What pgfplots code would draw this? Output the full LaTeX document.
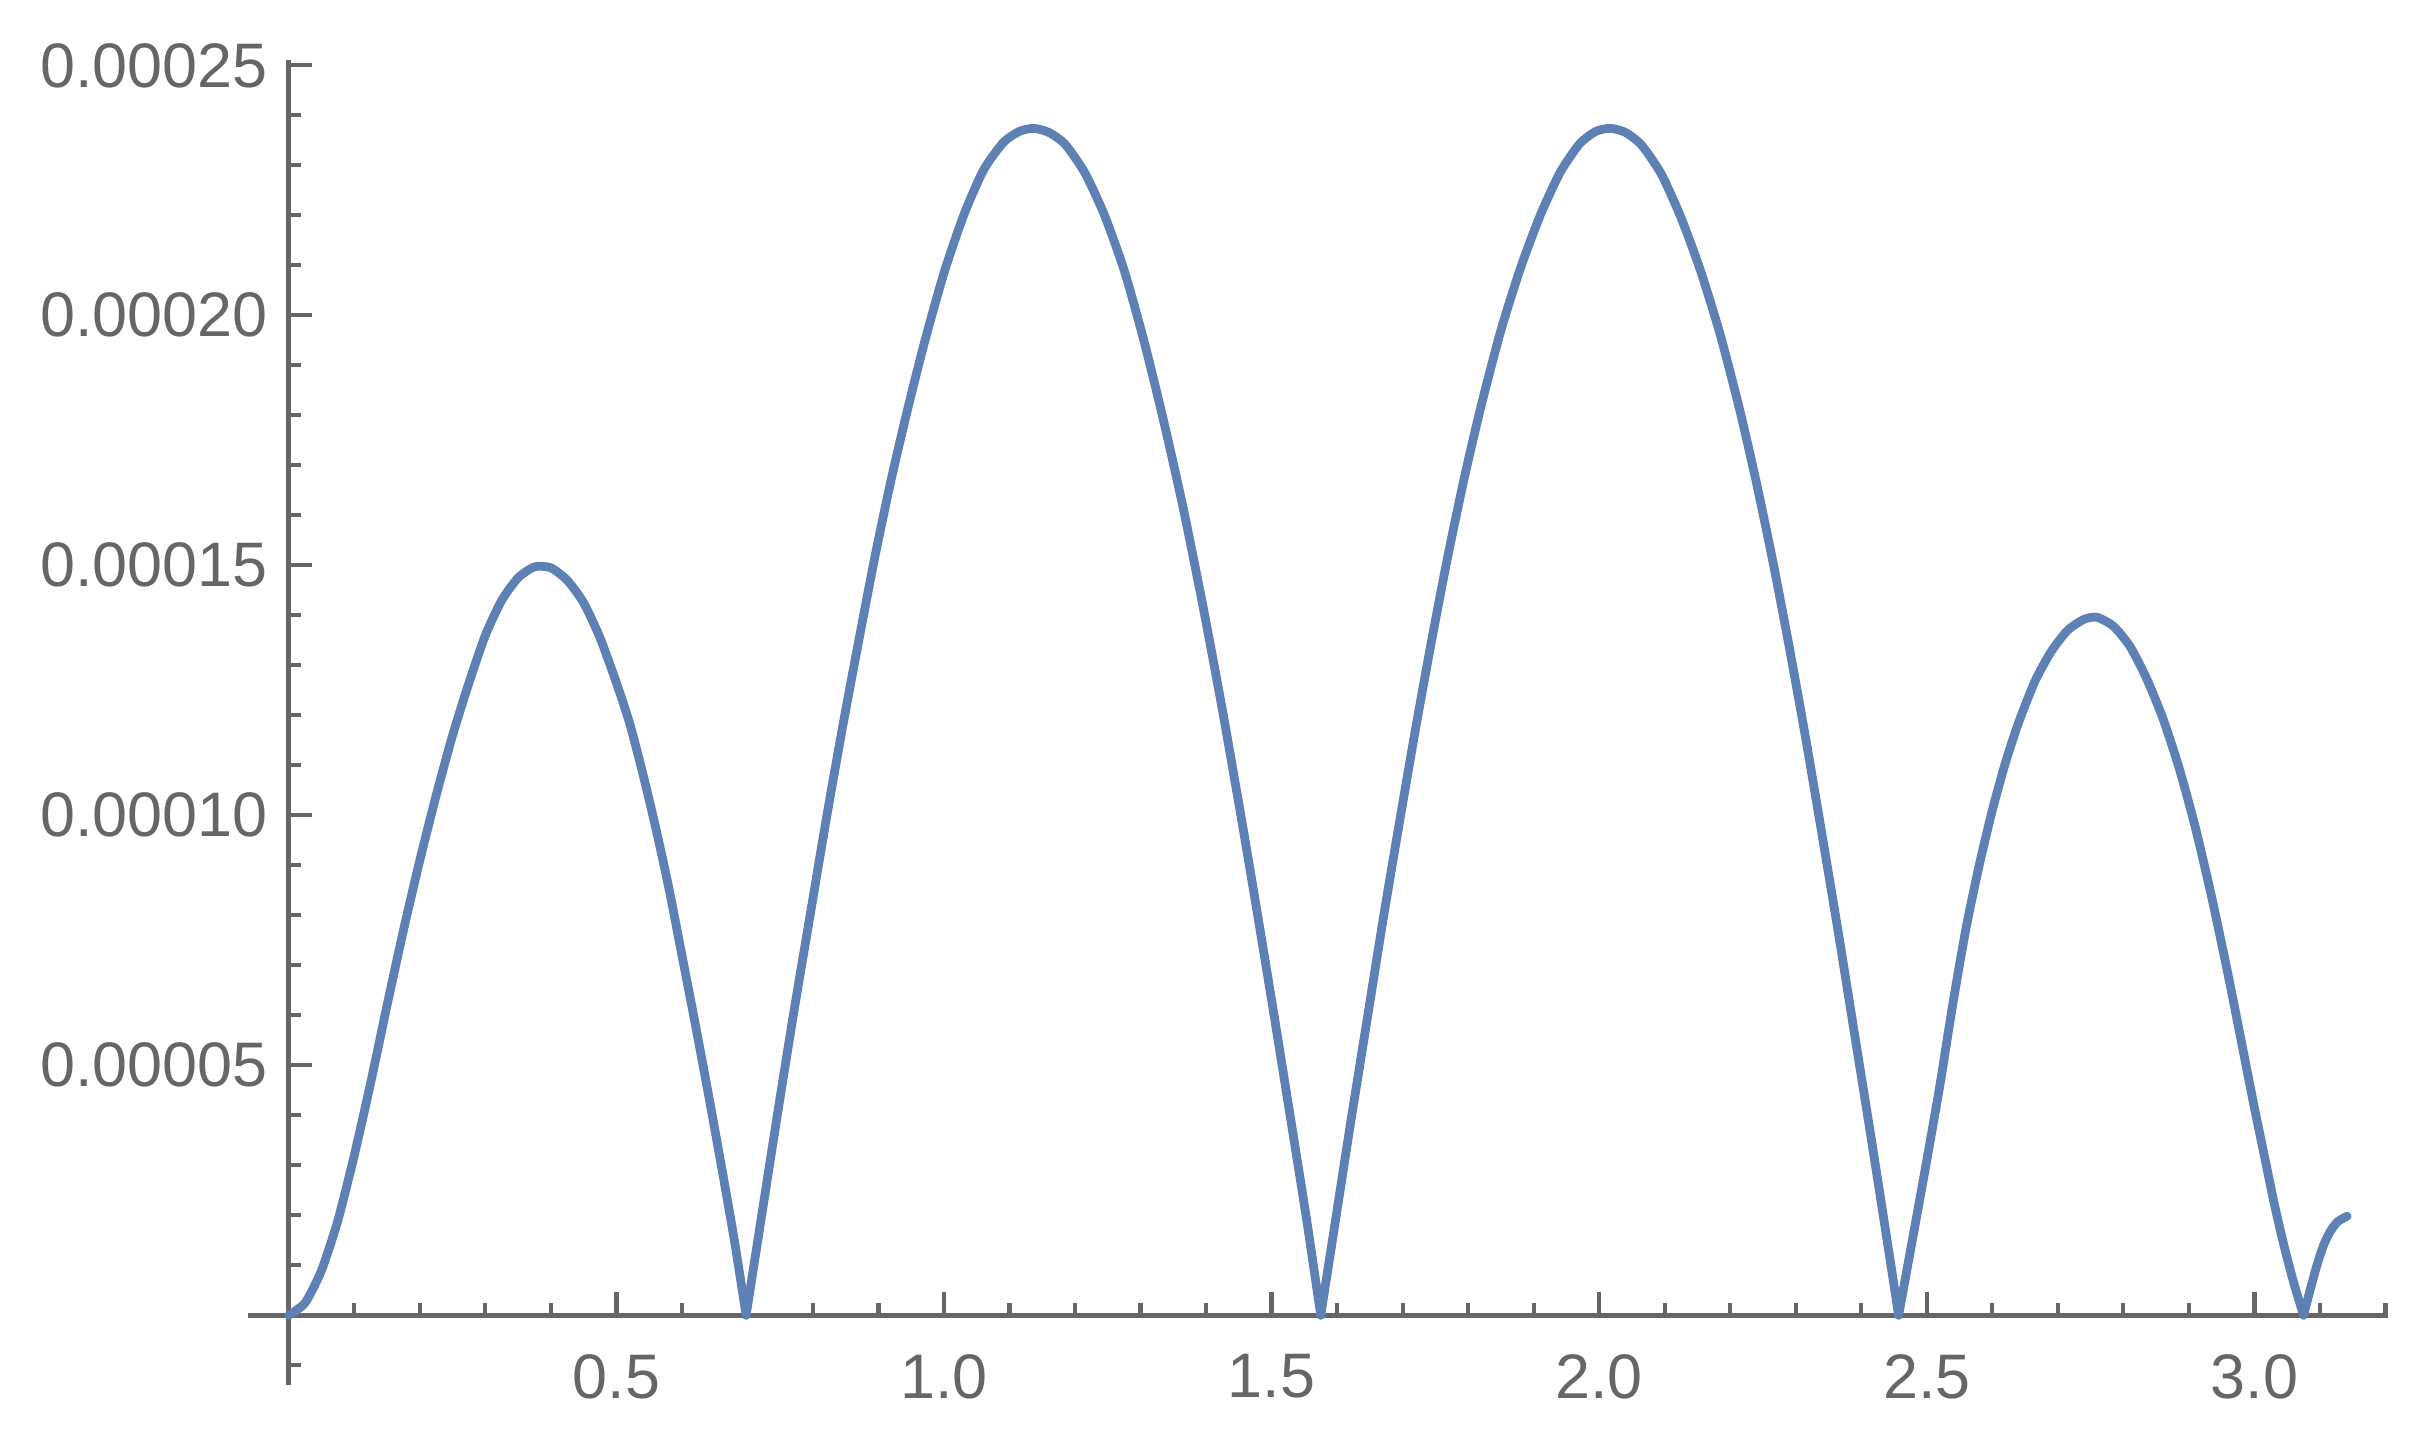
\documentclass[border=0pt]{standalone}
\usepackage{pgfplots}
\pgfplotsset{compat=1.18}
\usepackage{fontspec}
\setmainfont{Liberation Sans}

\definecolor{axisgray}{RGB}{102,102,102}
\definecolor{mblue}{rgb}{0.368417,0.506779,0.709798}
\tikzset{curve/.style={mblue, line width=1.45pt, line cap=round, line join=round, smooth, tension=0.4, mark=none}}

\begin{document}
\begin{tikzpicture}
\begin{axis}[
  scale only axis,
  width=354pt, height=219pt,
  axis lines=middle,
  xmin=-0.0628, xmax=3.2044,
  ymin=-0.0000139, ymax=0.000251,
  axis line style={axisgray, line width=0.8pt, -},
  tick style={axisgray, line width=0.7pt},
  tick align=inside,
  major tick length=3.8pt,
  minor tick length=2.1pt,
  xtick={0.5,1,1.5,2,2.5,3},
  xticklabels={0.5,1.0,1.5,2.0,2.5,3.0},
  minor xtick={0.1,0.2,0.3,0.4,0.6,0.7,0.8,0.9,1.1,1.2,1.3,1.4,1.6,1.7,1.8,1.9,2.1,2.2,2.3,2.4,2.6,2.7,2.8,2.9,3.1,3.2},
  ytick={0.00005,0.0001,0.00015,0.0002,0.00025},
  yticklabels={0.00005,0.00010,0.00015,0.00020,0.00025},
  minor ytick={-0.00001,0.00001,0.00002,0.00003,0.00004,0.00006,0.00007,0.00008,0.00009,0.00011,0.00012,0.00013,0.00014,0.00016,0.00017,0.00018,0.00019,0.00021,0.00022,0.00023,0.00024},
  scaled y ticks=false,
  ticklabel style={font=\fontsize{10.4}{12}\selectfont, text=axisgray},
  xticklabel style={yshift=-3pt},
  clip=false,
]
% arch 1
\addplot[curve] coordinates {
(0.000,0.0000000) (0.025,0.0000025) (0.050,0.0000090) (0.075,0.0000190)
(0.100,0.0000320) (0.125,0.0000465) (0.150,0.0000620) (0.175,0.0000770)
(0.200,0.0000910) (0.225,0.0001040) (0.250,0.0001160) (0.275,0.0001265)
(0.300,0.0001360) (0.325,0.0001430) (0.350,0.0001475) (0.375,0.0001497)
(0.400,0.0001495) (0.425,0.0001470) (0.450,0.0001425) (0.475,0.0001355)
(0.500,0.0001265) (0.520,0.0001185) (0.540,0.0001085) (0.560,0.0000975)
(0.580,0.0000855) (0.600,0.0000720) (0.620,0.0000585) (0.640,0.0000445)
(0.660,0.0000300) (0.680,0.0000150) (0.698,0.0000000)
};
% arch 2
\addplot[curve] coordinates {
(0.698,0.0000000)
(0.720,0.0000185) (0.745,0.0000395) (0.770,0.0000600) (0.795,0.0000795)
(0.820,0.0000990) (0.845,0.0001175) (0.870,0.0001350) (0.895,0.0001520)
(0.920,0.0001675) (0.945,0.0001815) (0.970,0.0001945) (1.000,0.0002085)
(1.030,0.0002200) (1.060,0.0002290) (1.090,0.0002345) (1.115,0.0002368)
(1.137,0.0002374) (1.160,0.0002366) (1.185,0.0002342) (1.215,0.0002285)
(1.245,0.0002200) (1.275,0.0002090) (1.305,0.0001950) (1.335,0.0001790)
(1.365,0.0001615) (1.395,0.0001420) (1.425,0.0001210) (1.455,0.0000985)
(1.480,0.0000790) (1.505,0.0000590) (1.530,0.0000385) (1.553,0.0000195)
(1.575,0.0000000)
};
% arch 3
\addplot[curve] coordinates {
(1.575,0.0000000)
(1.597,0.0000185) (1.620,0.0000380) (1.645,0.0000585) (1.670,0.0000790)
(1.695,0.0000985) (1.720,0.0001175) (1.745,0.0001355) (1.770,0.0001525)
(1.795,0.0001680) (1.820,0.0001820) (1.850,0.0001970) (1.880,0.0002095)
(1.910,0.0002200) (1.940,0.0002285) (1.970,0.0002343) (1.995,0.0002368)
(2.017,0.0002374) (2.040,0.0002366) (2.065,0.0002340) (2.095,0.0002282)
(2.125,0.0002195) (2.155,0.0002088) (2.185,0.0001960) (2.215,0.0001808)
(2.240,0.0001665) (2.265,0.0001508) (2.290,0.0001337) (2.315,0.0001155)
(2.340,0.0000962) (2.365,0.0000765) (2.390,0.0000560) (2.415,0.0000355)
(2.437,0.0000170) (2.457,0.0000000)
};
% arch 4
\addplot[curve] coordinates {
(2.457,0.0000000)
(2.480,0.0000165) (2.500,0.0000310) (2.520,0.0000460) (2.540,0.0000625)
(2.560,0.0000775) (2.580,0.0000900) (2.600,0.0001010) (2.620,0.0001105)
(2.640,0.0001185) (2.665,0.0001268) (2.690,0.0001328) (2.715,0.0001370)
(2.740,0.0001392) (2.760,0.0001396) (2.785,0.0001378) (2.810,0.0001338)
(2.835,0.0001275) (2.860,0.0001195) (2.885,0.0001095) (2.910,0.0000975)
(2.935,0.0000835) (2.960,0.0000680) (2.980,0.0000548) (3.000,0.0000415)
(3.015,0.0000320) (3.030,0.0000225) (3.045,0.0000140) (3.060,0.0000065)
(3.075,0.0000000)
};
% tail
\addplot[curve] coordinates {
(3.075,0.0000000)
(3.085,0.0000050) (3.095,0.0000098) (3.105,0.0000138) (3.115,0.0000166)
(3.127,0.0000187) (3.1416,0.0000198)
};
\end{axis}
\path ([shift={(-3.3pt,-4.8pt)}]current bounding box.south west)
  rectangle ([shift={(5.5pt,3.8pt)}]current bounding box.north east);
\end{tikzpicture}
\end{document}
